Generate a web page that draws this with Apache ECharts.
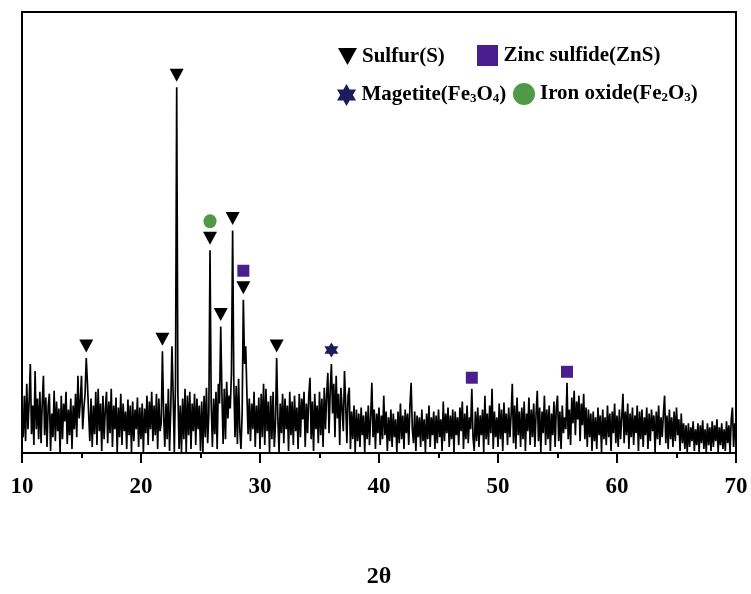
<!DOCTYPE html>
<html>
<head>
<meta charset="utf-8">
<title>XRD pattern</title>
<script src="https://cdn.jsdelivr.net/npm/echarts@6/dist/echarts.min.js"></script>
<style>
  html, body { margin: 0; padding: 0; background: #fff; }
  #chart { width: 751px; height: 594px; }
</style>
</head>
<body>
<div id="chart"></div>
<script>
// Diffraction scan: 2θ from 10° to 70° in 0.1° steps, intensity in arbitrary units.
const twoThetaStart = 10;
const twoThetaStep = 0.1;

const counts10to20 = [
  45, 16, 58, 12, 70, 24, 52, 90, 19, 48,
  8, 83, 24, 55, 14, 62, 10, 50, 78, 18,
  56, 6, 47, 60, 2, 40, 16, 63, 12, 52,
  22, 45, 1, 58, 14, 50, 32, 62, 9, 44,
  18, 55, 4, 48, 24, 60, 16, 78, 35, 52,
  78, 24, 45, 60, 96, 70, 40, 12, 55, 6,
  48, 19, 62, 8, 65, 22, 50, 2, 58, 14,
  44, 62, 10, 52, 20, 65, 6, 48, 24, 56,
  1, 46, 16, 60, 8, 50, 22, 42, 4, 54,
  18, 48, 1, 52, 12, 44, 24, 56, 6, 46
];
const counts20to30 = [
  14, 50, 1, 45, 20, 58, 8, 52, 24, 62,
  12, 48, 18, 60, 4, 55, 22, 30, 103, 40,
  6, 50, 14, 65, 2, 45, 108, 60, 1, 70,
  370, 60, 4, 48, 1, 55, 14, 65, 1, 58,
  18, 62, 4, 50, 22, 60, 8, 55, 24, 48,
  2, 52, 1, 58, 16, 66, 10, 40, 205, 50,
  6, 55, 19, 62, 4, 70, 50, 128, 60, 9,
  65, 14, 72, 35, 58, 45, 80, 225, 70, 16,
  68, 9, 75, 24, 4, 40, 155, 90, 108, 60,
  19, 55, 12, 50, 24, 62, 6, 48, 20, 56
];
const counts30to40 = [
  4, 60, 16, 70, 8, 65, 22, 52, 1, 58,
  14, 62, 6, 30, 96, 35, 1, 50, 20, 60,
  10, 55, 24, 48, 2, 62, 18, 52, 8, 58,
  22, 46, 4, 60, 16, 55, 34, 62, 6, 50,
  20, 58, 76, 14, 52, 2, 60, 24, 48, 10,
  62, 18, 55, 6, 66, 24, 58, 81, 20, 64,
  90, 40, 70, 16, 78, 35, 60, 8, 66, 45,
  22, 83, 50, 10, 58, 66, 4, 42, 14, 48,
  1, 44, 12, 40, 6, 46, 18, 38, 1, 42,
  14, 48, 8, 36, 71, 16, 44, 4, 40, 20
];
const counts40to50 = [
  46, 8, 38, 14, 58, 18, 42, 2, 36, 12,
  44, 6, 40, 16, 34, 1, 42, 10, 50, 14,
  38, 4, 44, 20, 40, 8, 48, 71, 24, 10,
  42, 2, 38, 16, 36, 6, 44, 12, 34, 1,
  40, 14, 48, 6, 36, 18, 42, 4, 38, 10,
  44, 16, 34, 2, 52, 12, 40, 20, 46, 6,
  38, 14, 44, 1, 42, 18, 36, 8, 46, 22,
  52, 4, 40, 14, 48, 10, 36, 24, 65, 16,
  2, 42, 12, 46, 6, 38, 18, 44, 1, 58,
  14, 40, 8, 48, 20, 65, 4, 42, 16, 36
];
const counts50to60 = [
  6, 50, 14, 44, 2, 51, 20, 40, 8, 46,
  16, 38, 70, 10, 48, 4, 56, 18, 42, 6,
  46, 14, 52, 2, 40, 22, 56, 8, 44, 16,
  50, 6, 40, 63, 12, 46, 1, 42, 20, 58,
  8, 44, 14, 48, 2, 40, 18, 52, 6, 46,
  58, 12, 42, 4, 48, 20, 36, 24, 71, 14,
  44, 8, 56, 30, 63, 18, 52, 34, 58, 12,
  50, 28, 60, 14, 46, 6, 44, 16, 40, 2,
  42, 12, 36, 4, 46, 18, 38, 1, 44, 14,
  36, 8, 48, 16, 40, 2, 42, 20, 50, 10
];
const counts60to70 = [
  38, 6, 44, 14, 36, 60, 10, 42, 18, 50,
  4, 40, 16, 46, 8, 38, 20, 48, 2, 42,
  14, 44, 6, 36, 18, 46, 4, 40, 12, 44,
  22, 38, 1, 42, 14, 48, 8, 36, 16, 40,
  58, 10, 38, 4, 44, 14, 36, 6, 42, 12,
  46, 18, 34, 2, 40, 10, 30, 4, 28, 1,
  30, 6, 26, 12, 32, 2, 24, 8, 30, 1,
  28, 10, 33, 4, 24, 1, 30, 8, 26, 2,
  32, 6, 28, 12, 34, 1, 26, 8, 30, 4,
  24, 2, 32, 10, 28, 1, 34, 46, 6, 30,
  14
];

// Reflections assigned to each phase (2θ, degrees)
const sulfurPeaks = [15.4, 21.8, 23.0, 25.8, 26.7, 27.7, 28.6, 31.4];
const zincSulfidePeaks = [28.6, 47.8, 55.8];
const magnetitePeaks = [36.0];
const ironOxidePeaks = [25.8];

const xTicks = { min: 10, max: 70, interval: 10 };

const intensity = [].concat(counts10to20, counts20to30, counts30to40,
                            counts40to50, counts50to60, counts60to70);
const pattern = intensity.map((v, i) =>
  [Math.round((twoThetaStart + i * twoThetaStep) * 10) / 10, v]);

function intensityAt(angle) {
  return intensity[Math.round((angle - twoThetaStart) / twoThetaStep)];
}

const SERIF = '"Liberation Serif", "Times New Roman", serif';
const DOWN_TRIANGLE = 'path://M0,0 L10,0 L5,9 Z';
const SQUARE = 'path://M0,0 L10,0 L10,10 L0,10 Z';
const HEXAGRAM = 'path://M0,-10 L8.66,5 L-8.66,5 Z M0,10 L-8.66,-5 L8.66,-5 Z';

// Marker sits just above the reflection; a second marker stacks above a sulfur triangle.
function markerData(peaks, gap, stacked) {
  return peaks.map(a => ({
    value: [a, intensityAt(a)],
    symbolOffset: [0, stacked && sulfurPeaks.includes(a) ? -29 : -gap]
  }));
}

const legendText = {
  fontFamily: SERIF, fontWeight: 'bold', fontSize: 21, color: '#000',
  rich: {
    sub: { fontFamily: SERIF, fontWeight: 'bold', fontSize: 13, color: '#000',
           verticalAlign: 'bottom', lineHeight: 14, padding: [7, 0, 0, 0] }
  }
};
const legendLabel = name => name
  .replace('Fe3O4', 'Fe{sub|3}O{sub|4}')
  .replace('Fe2O3', 'Fe{sub|2}O{sub|3}');

function legendItem(name, icon, left, top, w, h) {
  return {
    data: [{ name: name, icon: icon }],
    left: left, top: top, itemWidth: w, itemHeight: h,
    itemGap: 0, padding: 0, selectedMode: false,
    textStyle: legendText, formatter: legendLabel
  };
}

const chart = echarts.init(document.getElementById('chart'));
chart.setOption({
  animation: false,
  backgroundColor: '#fff',
  grid: {
    left: 22, right: 15, top: 12, bottom: 136,
    show: true, borderColor: '#000', borderWidth: 2
  },
  legend: [
    legendItem('Sulfur(S)', DOWN_TRIANGLE, 338, 46, 19, 18),
    legendItem('Zinc sulfide(ZnS)', SQUARE, 477, 45, 22, 21),
    legendItem('Magetite(Fe3O4)', HEXAGRAM, 337, 84, 20, 22),
    legendItem('Iron oxide(Fe2O3)', 'circle', 513, 83, 22, 24)
  ],
  xAxis: {
    type: 'value',
    min: xTicks.min, max: xTicks.max, interval: xTicks.interval,
    name: '2θ', nameLocation: 'middle', nameGap: 112,
    nameTextStyle: { fontFamily: SERIF, fontWeight: 'bold', fontSize: 24, color: '#000' },
    axisLine: { onZero: false, lineStyle: { color: '#000', width: 2 } },
    axisTick: { inside: false, length: 10, lineStyle: { color: '#000', width: 2 } },
    minorTick: { show: true, splitNumber: 2, length: 5, lineStyle: { color: '#000', width: 2 } },
    axisLabel: { margin: 23, fontFamily: SERIF, fontWeight: 'bold', fontSize: 23, color: '#000' },
    splitLine: { show: false }
  },
  yAxis: {
    type: 'value', min: 0, max: 446, show: false,
    splitLine: { show: false }
  },
  series: [
    {
      name: 'pattern', type: 'line', data: pattern,
      showSymbol: false, symbol: 'none', sampling: null,
      lineStyle: { color: '#000', width: 1.7 }, z: 2
    },
    {
      name: 'Sulfur(S)', type: 'scatter', symbol: DOWN_TRIANGLE, symbolSize: [14, 13],
      itemStyle: { color: '#000', opacity: 1 }, data: markerData(sulfurPeaks, 12, false), z: 5
    },
    {
      name: 'Zinc sulfide(ZnS)', type: 'scatter', symbol: SQUARE, symbolSize: [12, 12],
      itemStyle: { color: '#4b1e8e', opacity: 1 }, data: markerData(zincSulfidePeaks, 11, true), z: 5
    },
    {
      name: 'Magetite(Fe3O4)', type: 'scatter', symbol: HEXAGRAM, symbolSize: [14, 15],
      itemStyle: { color: '#1c1c5c', opacity: 1 }, data: markerData(magnetitePeaks, 14, false), z: 5
    },
    {
      name: 'Iron oxide(Fe2O3)', type: 'scatter', symbol: 'circle', symbolSize: [13, 14],
      itemStyle: { color: '#4f9a47', opacity: 1 }, data: markerData(ironOxidePeaks, 12, true), z: 5
    }
  ]
});
</script>
</body>
</html>
